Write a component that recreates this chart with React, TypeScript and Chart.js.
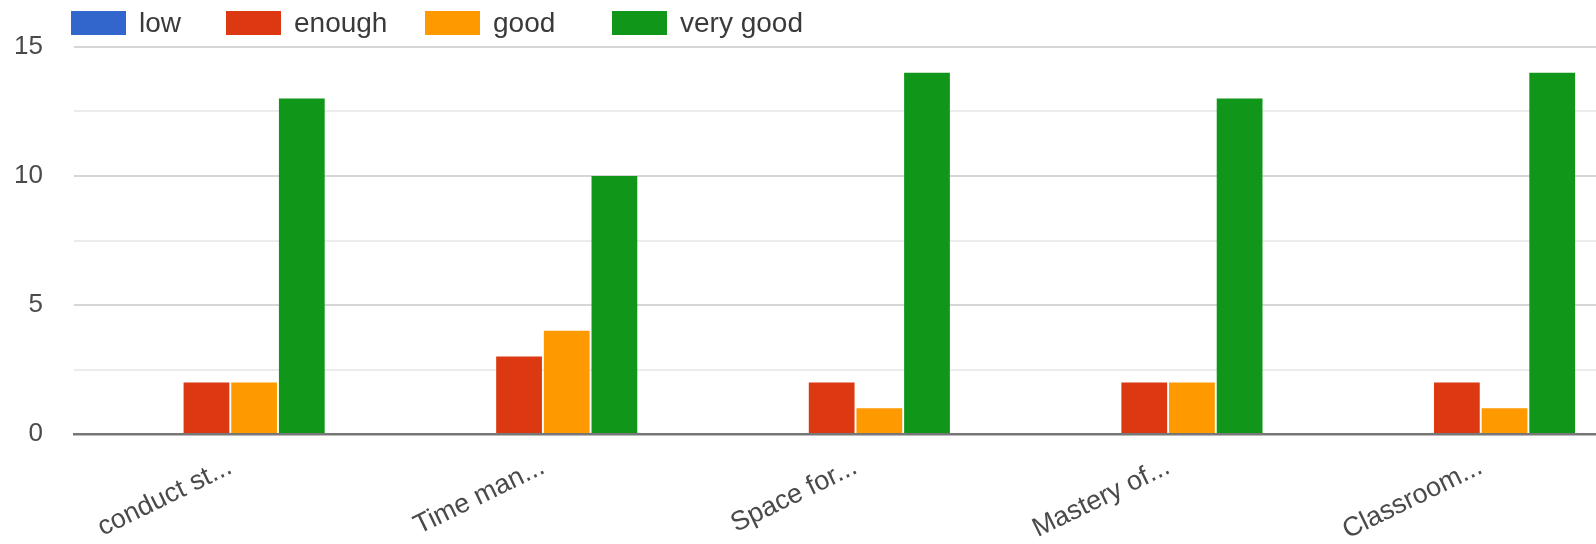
import React, { useEffect, useRef } from "react";
import { Chart, registerables } from "chart.js";

Chart.register(...registerables);

const categories = ["conduct st...", "Time man...", "Space for...", "Mastery of...", "Classroom..."];
const seriesNames = ["low", "enough", "good", "very good"];
const lowValues = [0, 0, 0, 0, 0];
const enoughValues = [2, 3, 2, 2, 2];
const goodValues = [2, 4, 1, 2, 1];
const veryGoodValues = [13, 10, 14, 13, 14];
const seriesColors = ["#3366cc", "#dc3912", "#ff9900", "#109618"];
const yMin = 0;
const yMax = 15;
const yStep = 2.5;

const FONT = "Arial, 'Liberation Sans', sans-serif";

export default function App() {
  const canvasRef = useRef<HTMLCanvasElement | null>(null);

  useEffect(() => {
    if (!canvasRef.current) return;
    const values = [lowValues, enoughValues, goodValues, veryGoodValues];
    const chart = new Chart(canvasRef.current, {
      type: "bar",
      data: {
        labels: categories,
        datasets: seriesNames.map((name, i) => ({
          label: name,
          data: values[i],
          backgroundColor: seriesColors[i],
          borderWidth: 0,
          categoryPercentage: 0.61,
          barPercentage: 0.96,
        })),
      },
      options: {
        animation: false,
        responsive: true,
        maintainAspectRatio: false,
        layout: { padding: { top: 47, left: 0, right: 8, bottom: 0 } },
        plugins: {
          legend: { display: false },
          tooltip: { enabled: false },
        },
        scales: {
          x: {
            grid: { display: false, drawTicks: false },
            border: { display: true, color: "#777", width: 2.5 },
            ticks: {
              autoSkip: false,
              minRotation: 26,
              maxRotation: 26,
              padding: 17,
              color: "#4a4a4a",
              font: { family: FONT, size: 27 },
            },
            afterFit: (scale: any) => {
              scale.height = 110;
            },
          },
          y: {
            min: yMin,
            max: yMax,
            border: { display: false },
            grid: {
              drawTicks: false,
              lineWidth: 2,
              color: (ctx: any) => {
                const v = ctx.tick ? ctx.tick.value : 0;
                if (v === 0) return "rgba(0,0,0,0)";
                return v % 5 === 0 ? "#d6d6d6" : "#ececec";
              },
            },
            ticks: {
              stepSize: yStep,
              padding: 31,
              color: "#4a4a4a",
              font: { family: FONT, size: 26 },
              callback: (v: any) => (Number(v) % 5 === 0 ? String(v) : ""),
            },
            afterFit: (scale: any) => {
              scale.width = 74;
            },
          },
        },
      },
    });
    return () => chart.destroy();
  }, []);

  const legendLeft = [71, 226, 425, 612];

  return (
    <div
      style={{
        position: "fixed",
        left: 0,
        top: 0,
        width: 1596,
        height: 544,
        overflow: "hidden",
        background: "#fff",
      }}
    >
      <div style={{ position: "absolute", left: 0, top: 0, width: 1645, height: 544 }}>
        <canvas ref={canvasRef} />
      </div>
      {seriesNames.map((name, i) => (
        <div
          key={name}
          style={{
            position: "absolute",
            left: legendLeft[i],
            top: 11,
            height: 24,
            display: "flex",
            alignItems: "center",
            fontFamily: FONT,
            fontSize: 28,
            color: "#3a3a3a",
            whiteSpace: "nowrap",
          }}
        >
          <span
            style={{
              display: "inline-block",
              width: 55,
              height: 24,
              background: seriesColors[i],
              marginRight: 13,
            }}
          />
          <span>{name}</span>
        </div>
      ))}
    </div>
  );
}
